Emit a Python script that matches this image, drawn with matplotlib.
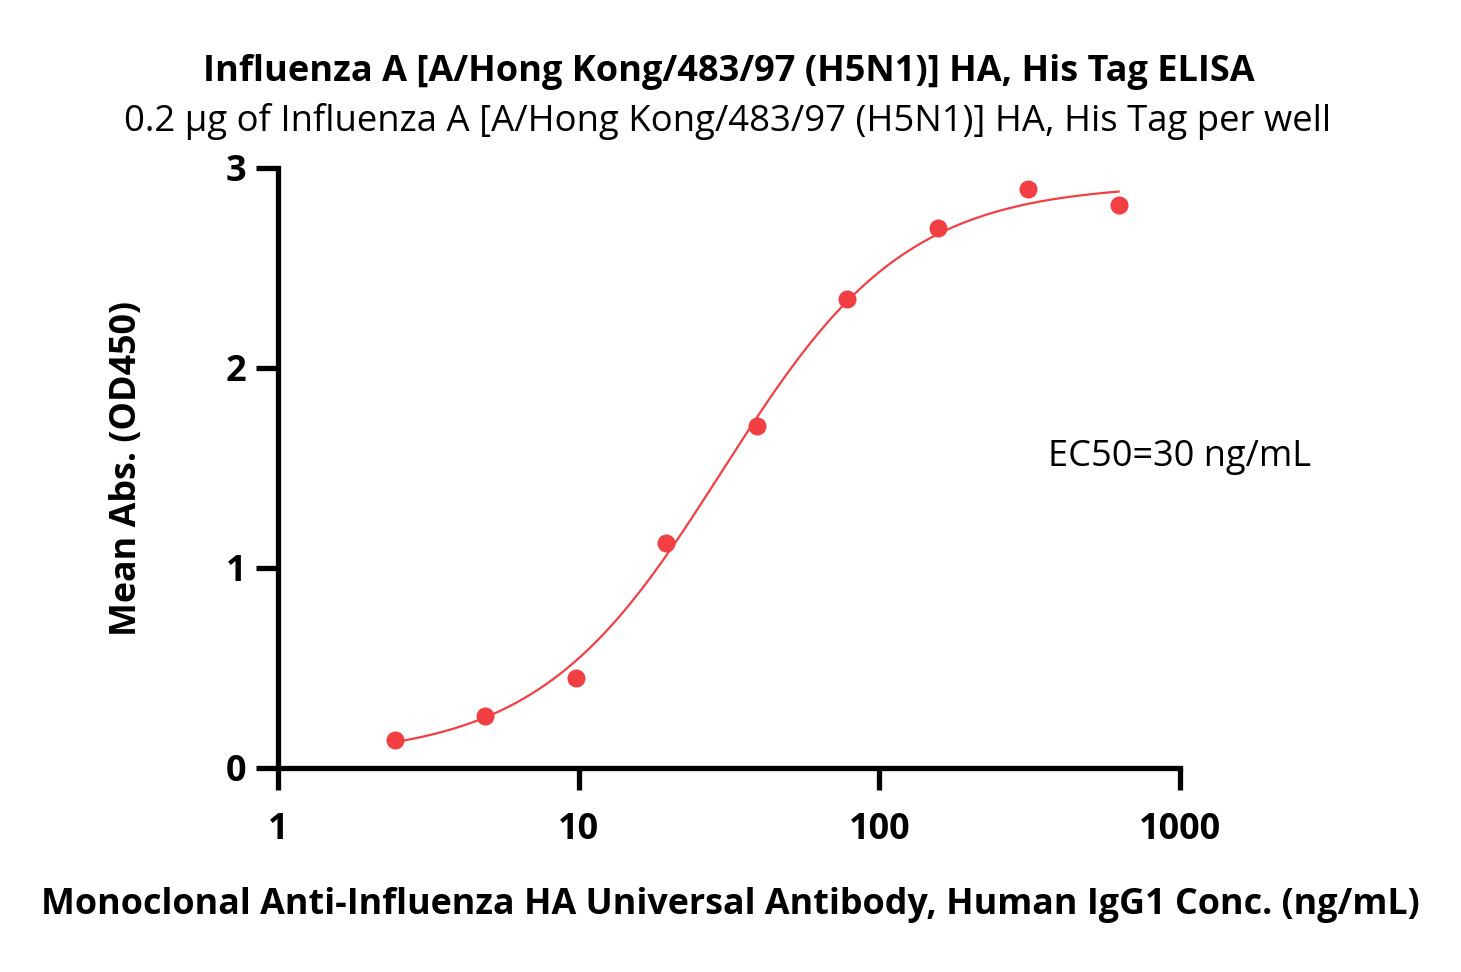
import numpy as np
import matplotlib
matplotlib.use('Agg')
import matplotlib.pyplot as plt
from matplotlib.ticker import FixedLocator, NullLocator

# data
conc = [2.44, 4.88, 9.77, 19.53, 39.06, 78.13, 156.25, 312.5, 625]
od450 = [0.14, 0.26, 0.45, 1.125, 1.71, 2.345, 2.70, 2.895, 2.815]

# 4PL fit parameters (bottom, top, EC50, hill)
fit_bottom = 0.05
fit_top = 2.92
fit_ec50 = 30
fit_hill = 1.42

xticks = [1, 10, 100, 1000]
yticks = [0, 1, 2, 3]

red = '#F23F44'
plt.rcParams['font.family'] = ['Open Sans', 'DejaVu Sans']


def main():
    fig = plt.figure(figsize=(14.61, 9.72), dpi=100)
    ax = fig.add_axes([0.1903, 0.2099, 0.6174, 0.6173])

    xs = np.logspace(np.log10(conc[0]), np.log10(conc[-1]), 300)
    ys = fit_bottom + (fit_top - fit_bottom) / (1 + (fit_ec50 / xs) ** fit_hill)
    ax.plot(xs, ys, color=red, lw=1.6, zorder=2)
    ax.plot(conc, od450, 'o', color=red, ms=13, mec='none', zorder=3, clip_on=False)

    ax.set_xscale('log')
    ax.set_xlim(1, 1000)
    ax.set_ylim(0, 3)
    ax.xaxis.set_major_locator(FixedLocator(xticks))
    ax.xaxis.set_minor_locator(NullLocator())
    ax.set_xticklabels([str(t) for t in xticks])
    ax.set_yticks(yticks)
    ax.set_yticklabels([str(t) for t in yticks])

    for s in ['top', 'right']:
        ax.spines[s].set_visible(False)
    for s in ['left', 'bottom']:
        ax.spines[s].set_linewidth(3.8)
    ax.tick_params(width=3.8, length=16, labelsize=26)
    ax.tick_params(axis='x', pad=16)
    ax.tick_params(axis='y', pad=7)
    for lab in ax.get_xticklabels() + ax.get_yticklabels():
        lab.set_fontweight('bold')

    fig.text(0.499, 0.926, 'Influenza A [A/Hong Kong/483/97 (H5N1)] HA, His Tag ELISA',
             ha='center', va='center', fontsize=26, fontweight='bold')
    fig.text(0.498, 0.875, '0.2 \u03bcg of Influenza A [A/Hong Kong/483/97 (H5N1)] HA, His Tag per well',
             ha='center', va='center', fontsize=26.3)
    fig.text(0.500, 0.069, 'Monoclonal Anti-Influenza HA Universal Antibody, Human IgG1 Conc. (ng/mL)',
             ha='center', va='center', fontsize=25.8, fontweight='bold')
    fig.text(0.087, 0.518, 'Mean Abs. (OD450)', rotation=90,
             ha='center', va='center', fontsize=25.8, fontweight='bold')
    ax.text(0.8536, 0.518, 'EC50=30 ng/mL', transform=ax.transAxes,
            ha='left', va='center', fontsize=26)

    fig.savefig('out.png', dpi=100)


if __name__ == '__main__':
    main()
